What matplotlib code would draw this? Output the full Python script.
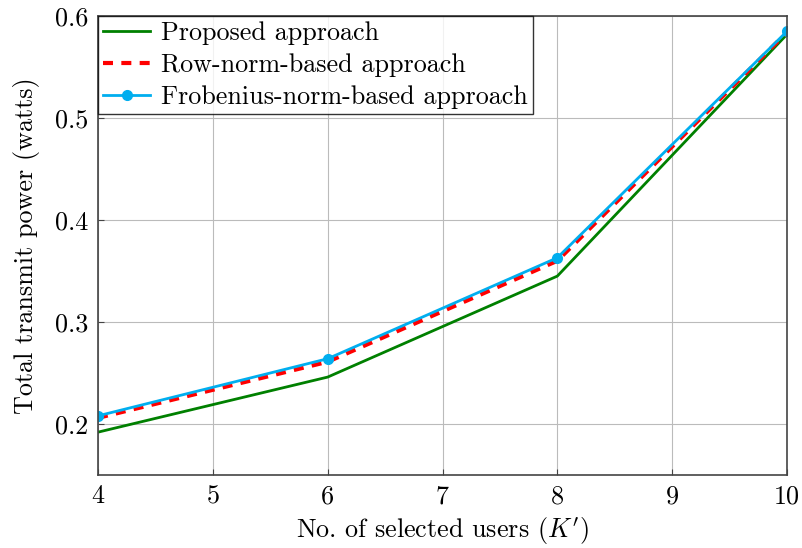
import matplotlib
matplotlib.use("Agg")
import matplotlib.pyplot as plt

plt.rcParams["font.family"] = "serif"
plt.rcParams["font.serif"] = ["cmr10"]
plt.rcParams["mathtext.fontset"] = "cm"
plt.rcParams["axes.formatter.use_mathtext"] = True

users = [4, 6, 8, 10]
proposed = [0.192, 0.246, 0.345, 0.582]
row_norm = [0.206, 0.261, 0.360, 0.584]
frobenius = [0.208, 0.264, 0.363, 0.585]

x_ticks = [4, 5, 6, 7, 8, 9, 10]
y_ticks = [0.2, 0.3, 0.4, 0.5, 0.6]

FS = 18.8

fig = plt.figure(figsize=(8.02, 5.48), dpi=100)
ax = fig.add_axes([98 / 802, 1 - 475 / 548, (787 - 98) / 802, (475 - 16) / 548])

ax.plot(users, proposed, color="#008000", lw=2.0, label="Proposed approach")
ax.plot(users, row_norm, color="#ff0000", lw=3.0, ls=(0, (2.4, 2.0)),
        label="Row-norm-based approach")
ax.plot(users, frobenius, color="#00aeef", lw=2.0, marker="o", ms=7,
        label="Frobenius-norm-based approach")

ax.set_xlim(4, 10)
ax.set_ylim(0.15, 0.6)
ax.set_xticks(x_ticks)
ax.set_yticks(y_ticks)
ax.set_xticklabels([str(v) for v in x_ticks])
ax.set_yticklabels([f"{v:.1f}" for v in y_ticks])
ax.tick_params(direction="in", labelsize=FS, length=4, color="#444444", pad=7)
ax.grid(True, color="#bbbbbb", lw=0.8)
ax.set_axisbelow(True)
for s in ax.spines.values():
    s.set_color("#444444")
    s.set_linewidth(1.2)

ax.set_xlabel(r"No. of selected users ($K'$)", fontsize=FS, labelpad=5)
ax.set_ylabel("Total transmit power (watts)", fontsize=FS, labelpad=11)

leg = ax.legend(loc="upper left", fontsize=FS, frameon=True, fancybox=False,
                edgecolor="black", borderaxespad=0.0, handlelength=1.8,
                borderpad=0.2, labelspacing=0.32, handletextpad=0.4)
leg.get_frame().set_linewidth(1.0)

fig.savefig("out.png", dpi=100)
